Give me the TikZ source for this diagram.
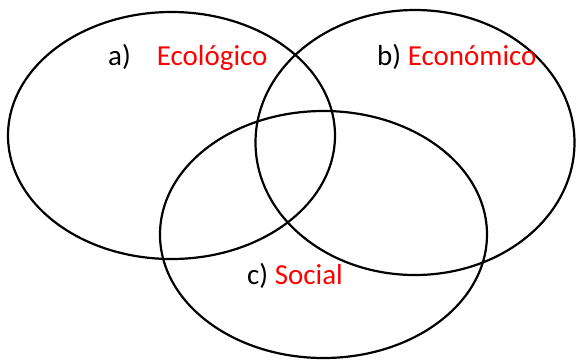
\documentclass[tikz,border=0pt]{standalone}
\usepackage{fontspec}
\setmainfont{Carlito}
\usetikzlibrary{shapes.geometric}

\begin{document}
\begin{tikzpicture}[
    x=1pt, y=-1pt,
    set/.style={ellipse, draw=black, line width=2.2pt, inner sep=0pt},
    tag/.style={anchor=base west, inner sep=0pt, font=\fontsize{29}{31}\selectfont} ]

    \useasboundingbox (0,0) rectangle (576,360);

    % The three sets
    \node[set, minimum width=327pt, minimum height=247pt] (eco) at (171.5,135.5) {};
    \node[set, minimum width=319pt, minimum height=265pt] (econ) at (415,142.5) {};
    \node[set, minimum width=327pt, minimum height=247pt] (soc) at (323.5,234.5) {};

    % Labels of the sets
    \node[tag] (eco_label) at (108,65) {a)\hspace{26pt}\textcolor{red}{Ecológico}};
    \node[tag] (econ_label) at (377,65) {b) \textcolor{red}{Económico}};
    \node[tag] (soc_label) at (247,284) {c) \textcolor{red}{Social}};

\end{tikzpicture}
\end{document}
